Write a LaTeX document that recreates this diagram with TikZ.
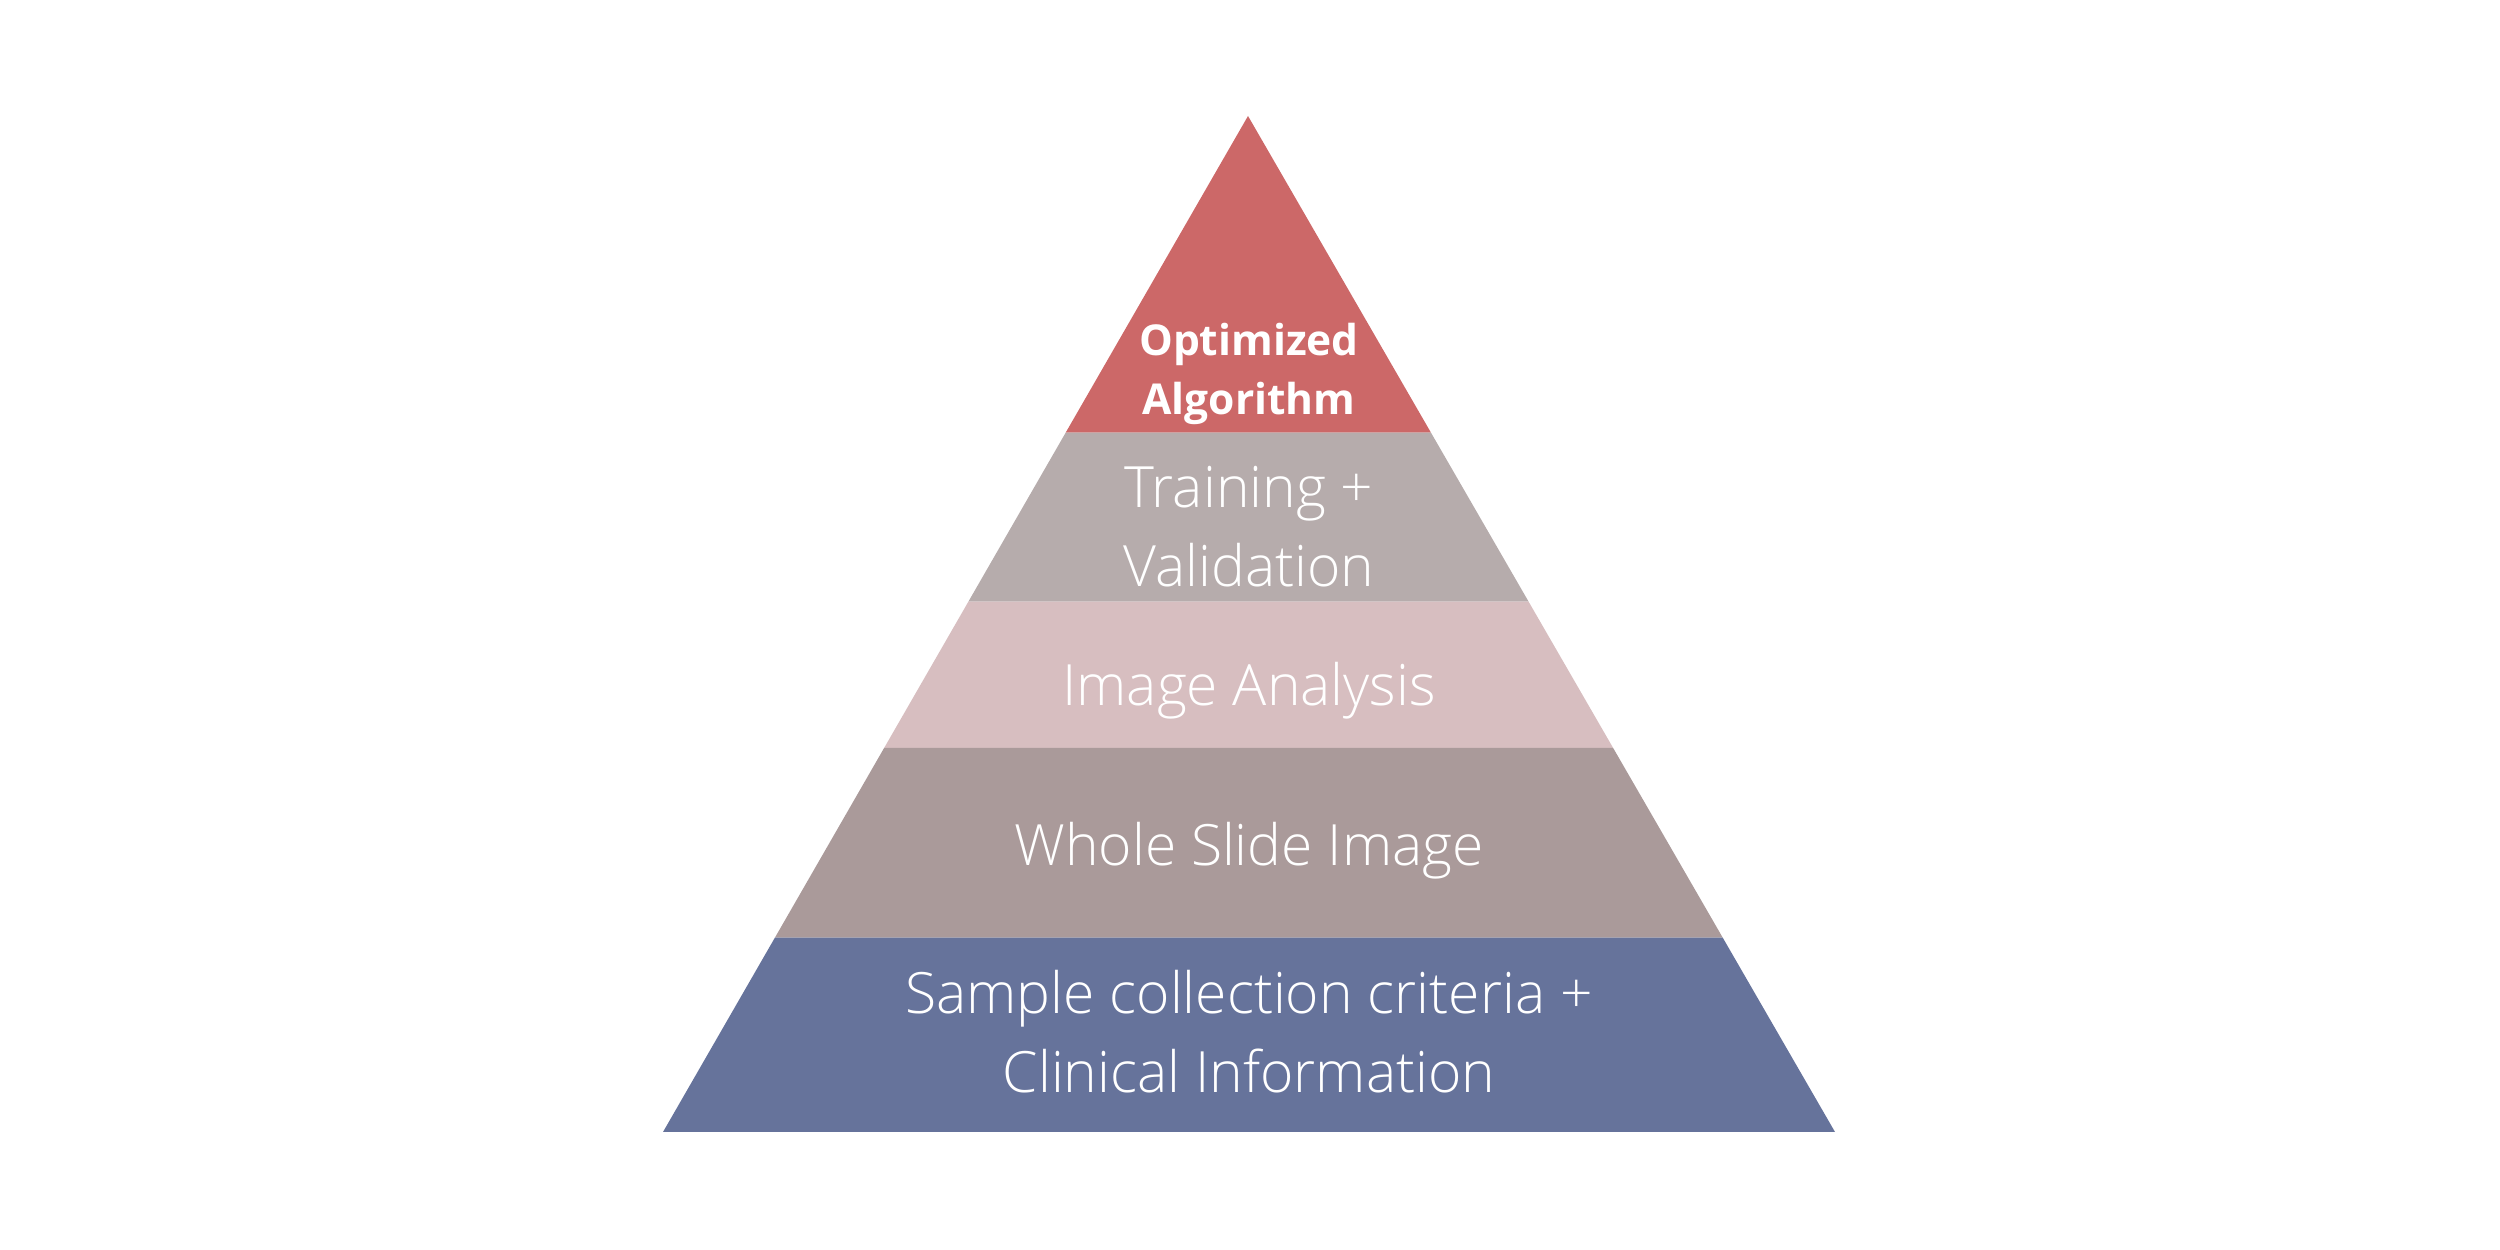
\documentclass[tikz,border=0pt]{standalone}
\usepackage{fontspec}
\setmainfont{Open Sans}
\IfFontExistsTF{Open Sans Light}
  {\newfontfamily\lightfont{Open Sans Light}}
  {\newfontfamily\lightfont{Open Sans}}
\usepackage{tikz}
\usetikzlibrary{calc}
\definecolor{algored}{HTML}{CC6868}
\definecolor{traingray}{HTML}{B6ACAC}
\definecolor{analysispink}{HTML}{D7BEC0}
\definecolor{slidebrown}{HTML}{AA9A9A}
\definecolor{sampleblue}{HTML}{66739B}

\begin{document}
\begin{tikzpicture}[
    layer/.style={draw=none},
    lbl/.style={text=white, align=center, inner sep=0pt,
                font=\lightfont\fontsize{16.2}{22.4}\selectfont},
    toplbl/.style={lbl, font=\fontsize{12.1}{16.8}\selectfont\bfseries}
  ]
  \useasboundingbox (0,0) rectangle (25,12.5);

  %% Pyramid corners
  \coordinate (apex) at (12.48,11.34);
  \coordinate (bl)   at (6.63,1.18);
  \coordinate (br)   at (18.35,1.18);

  %% Layer boundaries on both edges
  \coordinate (l1) at ($(apex)!0.3117!(bl)$);
  \coordinate (r1) at ($(apex)!0.3117!(br)$);
  \coordinate (l2) at ($(apex)!0.4781!(bl)$);
  \coordinate (r2) at ($(apex)!0.4781!(br)$);
  \coordinate (l3) at ($(apex)!0.6220!(bl)$);
  \coordinate (r3) at ($(apex)!0.6220!(br)$);
  \coordinate (l4) at ($(apex)!0.8088!(bl)$);
  \coordinate (r4) at ($(apex)!0.8088!(br)$);

  %% Layers, top to bottom
  \fill[layer, algored]      (apex) -- (r1) -- (l1) -- cycle;
  \fill[layer, traingray]    (l1) -- (r1) -- (r2) -- (l2) -- cycle;
  \fill[layer, analysispink] (l2) -- (r2) -- (r3) -- (l3) -- cycle;
  \fill[layer, slidebrown]   (l3) -- (r3) -- (r4) -- (l4) -- cycle;
  \fill[layer, sampleblue]   (l4) -- (r4) -- (br) -- (bl) -- cycle;

  %% Labels
  \node (algo)     [toplbl] at (12.49,8.76) {Optimized\\Algorithm};
  \node (train)    [lbl]    at (12.49,7.23) {Training +\\Validation};
  \node (analysis) [lbl]    at (12.49,5.59) {Image Analysis};
  \node (slide)    [lbl]    at (12.49,3.99) {Whole Slide Image};
  \node (sample)   [lbl]    at (12.49,2.18) {Sample collection criteria +\\Clinical Information};

\end{tikzpicture}
\end{document}
